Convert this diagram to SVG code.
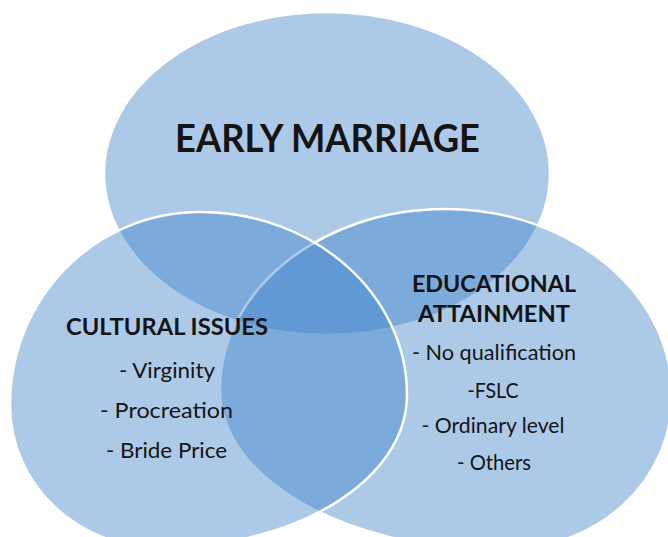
<svg xmlns="http://www.w3.org/2000/svg" width="668" height="537" viewBox="0 0 668 537">
  <style>
    .set { fill: #3a80c8; fill-opacity: 0.42; stroke: #ffffff; stroke-width: 2.5; }
    .title { font-family: Lato, "Open Sans", "Liberation Sans", sans-serif; font-weight: 700; fill: #141414; text-anchor: middle; }
    .item { font-family: Lato, "Open Sans", "Liberation Sans", sans-serif; font-weight: 400; fill: #141414; text-anchor: middle; }
  </style>
  <rect width="668" height="537" fill="#ffffff"/>

  <!-- top set -->
  <g id="early-marriage">
    <ellipse class="set" cx="327" cy="173.5" rx="223" ry="161.5"/>
  </g>
  <!-- right set: extreme points left (220,390), top (445,209), right (672,395), bottom (500,550) -->
  <g id="educational-attainment">
    <path class="set" d="M220,390 C220,290 321,209 445,209 C570,209 672,292 672,395 C672,481 600,550 500,550 C345,550 220,478 220,390 Z"/>
  </g>
  <!-- left set: extreme points left (10,405), top (200,212), right (407,395), bottom (160,548) -->
  <g id="cultural-issues">
    <path class="set" d="M10,405 C10,298 95,212 200,212 C314,212 407,294 407,395 C407,480 296,548 160,548 C77,548 10,484 10,405 Z"/>
  </g>

  <g id="labels">
    <text class="title" x="327.5" y="152" font-size="38" textLength="305" lengthAdjust="spacingAndGlyphs">EARLY MARRIAGE</text>

    <text class="title" x="167" y="335" font-size="22" textLength="202" lengthAdjust="spacingAndGlyphs">CULTURAL ISSUES</text>
    <text class="item" x="167" y="378" font-size="21" textLength="96" lengthAdjust="spacingAndGlyphs">- Virginity</text>
    <text class="item" x="166.5" y="418" font-size="21" textLength="133" lengthAdjust="spacingAndGlyphs">- Procreation</text>
    <text class="item" x="166.5" y="458" font-size="21" textLength="121" lengthAdjust="spacingAndGlyphs">- Bride Price</text>

    <text class="title" x="494" y="292" font-size="22" textLength="164" lengthAdjust="spacingAndGlyphs">EDUCATIONAL</text>
    <text class="title" x="494" y="322" font-size="22" textLength="152" lengthAdjust="spacingAndGlyphs">ATTAINMENT</text>
    <text class="item" x="494" y="360" font-size="21" textLength="164" lengthAdjust="spacingAndGlyphs">- No qualification</text>
    <text class="item" x="493" y="398" font-size="21" textLength="51" lengthAdjust="spacingAndGlyphs">-FSLC</text>
    <text class="item" x="493" y="433" font-size="21" textLength="143" lengthAdjust="spacingAndGlyphs">- Ordinary level</text>
    <text class="item" x="494" y="470" font-size="21" textLength="74" lengthAdjust="spacingAndGlyphs">- Others</text>
  </g>
</svg>
